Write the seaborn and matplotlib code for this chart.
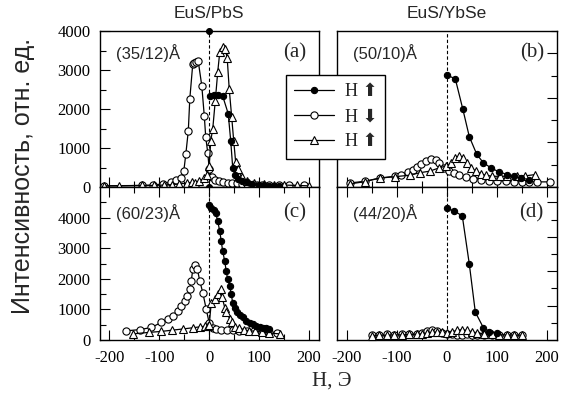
import numpy as np
import pandas as pd
import seaborn as sns
import matplotlib
matplotlib.use("Agg")
import matplotlib.pyplot as plt
from matplotlib.lines import Line2D
from matplotlib.ticker import MultipleLocator
from matplotlib.font_manager import FontProperties

# ---------------- data ----------------
# panel (a) EuS/PbS (35/12)
fill_a_x = [2, 10, 18, 27, 38, 43, 47, 52, 58, 65, 75, 85, 100, 110, 120, 130, 140]
fill_a_y = [2330, 2350, 2350, 2330, 1880, 1190, 500, 300, 200, 150, 120, 80, 50, 40, 30, 20, 20]
fill_a_iso_x = [0, 0]
fill_a_iso_y = [4000, 0]
circ_a_x = [-210, -135, -113, -93, -77, -67, -57, -51, -47, -42, -39, -33, -30, -26, -22, -15, -10, -7, -3, 0,
            5, 12, 20, 28, 37, 45, 55, 65, 75, 85, 95, 105, 120, 140, 160, 190]
circ_a_y = [30, 40, 50, 80, 130, 170, 240, 410, 840, 1440, 2260, 3160, 3190, 3210, 3220, 2600, 1830, 1270, 880, 450,
            250, 180, 150, 120, 110, 100, 90, 80, 70, 60, 60, 50, 40, 40, 40, 40]
tri_a_x = [-210, -180, -135, -110, -90, -75, -60, -45, -35, -28, -20, -10, -5, 0, 3, 7, 12, 17, 21, 27,
           32, 36, 40, 45, 49, 53, 57, 65, 75, 90, 110, 130, 150, 175, 200]
tri_a_y = [30, 30, 40, 40, 50, 60, 80, 100, 120, 110, 150, 230, 300, 540, 1190, 1490, 2200, 2950, 3450, 3600,
           3550, 3300, 2520, 1790, 1190, 630, 450, 250, 150, 100, 80, 60, 50, 40, 30]

# panel (b) EuS/YbSe (50/10)
fill_b_x = [0, 17, 32, 45, 60, 73, 88, 104, 121, 134, 149, 164]
fill_b_y = [2510, 2430, 1750, 1130, 730, 545, 430, 340, 280, 240, 200, 165]
circ_b_x = [-193, -163, -134, -104, -91, -77, -67, -60, -51, -41, -31, -22, -15, -5, 5, 15, 25, 38, 52, 68,
            85, 101, 118, 134, 151, 164, 180, 207]
circ_b_y = [90, 130, 200, 240, 280, 340, 390, 445, 520, 580, 620, 600, 545, 430, 370, 320, 280, 220, 190, 165,
            145, 145, 130, 115, 115, 115, 115, 115]
tri_b_x = [-193, -163, -134, -104, -74, -54, -34, -15, -1, 9, 17, 25, 32, 40, 48, 58, 68, 78, 91, 106,
           121, 140, 157, 177]
tri_b_y = [70, 120, 200, 230, 265, 320, 355, 430, 470, 545, 660, 695, 640, 545, 430, 355, 295, 265, 240, 240,
           240, 250, 250, 280]

# panel (c) EuS/PbS (60/23)
fill_c_x = [0, 4, 9, 13, 17, 21, 24, 27, 31, 34, 37, 41, 44, 47, 51, 56, 61, 67, 74, 81, 87, 94, 101, 107, 114, 120]
fill_c_y = [4420, 4330, 4250, 4150, 3880, 3560, 3230, 2900, 2580, 2250, 1980, 1770, 1500, 1220, 1060, 930, 820,
            740, 630, 570, 520, 470, 430, 400, 390, 370]
circ_c_x = [-166, -139, -116, -96, -83, -73, -63, -56, -49, -44, -39, -36, -33, -29, -24, -19, -13, -6, 0, 7,
            14, 24, 35, 48, 60, 75, 90, 105, 120, 135]
circ_c_y = [300, 340, 410, 575, 680, 790, 950, 1120, 1280, 1440, 1660, 1930, 2310, 2440, 2330, 1930, 1550, 1000,
            550, 390, 360, 340, 330, 320, 310, 300, 290, 270, 250, 230]
tri_c_x = [-153, -120, -96, -75, -53, -33, -19, -8, -3, 0, 4, 11, 17, 23, 26, 31, 34, 41, 45, 52,
           60, 70, 80, 91, 105, 120, 141]
tri_c_y = [200, 250, 280, 320, 360, 400, 430, 450, 470, 500, 1220, 1330, 1500, 1660, 1390, 1060, 900, 700, 575,
           440, 380, 330, 300, 290, 260, 230, 200]

# panel (d) EuS/YbSe (44/20)
fill_d_x = [0, 15, 31, 45, 57, 73, 85, 100]
fill_d_y = [3830, 3750, 3610, 2210, 810, 360, 245, 200]
low_d_x = [-150, -135, -120, -105, -90, -75, -60, -50, -40, -30, -20, -10, 0, 10, 20, 30, 40, 50, 60, 75,
           90, 105, 120, 135, 150]
circ_d_y = [150, 150, 160, 150, 160, 170, 180, 200, 250, 300, 260, 200, 170, 160, 150, 150, 160, 150, 150, 150,
            150, 150, 140, 150, 150]
tri_d_y = [130, 140, 140, 150, 150, 160, 170, 180, 200, 220, 230, 220, 200, 230, 280, 300, 280, 240, 200, 170,
           160, 150, 150, 140, 140]

column_titles = ["EuS/PbS", "EuS/YbSe"]
sample_labels = ["(35/12)Å", "(50/10)Å", "(60/23)Å", "(44/20)Å"]
panel_letters = ["(a)", "(b)", "(c)", "(d)"]
legend_labels = ["H \u2B06", "H \u2B07", "H \u2B06"]
y_label = "Интенсивность, отн. ед."
x_label = "Н, Э"
x_ticks = [-200, -100, 0, 100, 200]
y_ticks = [0, 1000, 2000, 3000, 4000]

# ---------------- style ----------------
sns.set_theme(style="white")
plt.rcParams["font.family"] = ["Liberation Serif", "DejaVu Sans"]
plt.rcParams["axes.unicode_minus"] = False
SANS = FontProperties(family=["Liberation Sans", "DejaVu Sans"], style="normal", weight="normal")

W, H = 567, 394
fig = plt.figure(figsize=(W / 100, H / 100), dpi=100)
fig.patch.set_facecolor("white")

def ax_at(l, t, r, b):
    return fig.add_axes([l / W, 1 - b / H, (r - l) / W, (b - t) / H])

ax_a = ax_at(100, 31, 319, 187)
ax_c = ax_at(100, 187, 319, 340)
ax_b = ax_at(337, 31, 557, 187)
ax_d = ax_at(337, 187, 557, 340)

line_kw = dict(color="black", linewidth=0.9, estimator=None, sort=False, legend=False)
filled = dict(marker="o", markersize=4.5, markerfacecolor="black", markeredgecolor="black", markeredgewidth=0.8)
opencirc = dict(marker="o", markersize=5.2, markerfacecolor="white", markeredgecolor="black", markeredgewidth=0.8)
opentri = dict(marker="^", markersize=5.2, markerfacecolor="white", markeredgecolor="black", markeredgewidth=0.8)

def series(ax, x, y, mk, z):
    df = pd.DataFrame({"x": x, "y": y})
    sns.lineplot(data=df, x="x", y="y", ax=ax, zorder=z, clip_on=False, **line_kw, **mk)

panels = [
    (ax_a, [(circ_a_x, circ_a_y, opencirc), (tri_a_x, tri_a_y, opentri), (fill_a_x, fill_a_y, filled)], (0, 4000)),
    (ax_b, [(circ_b_x, circ_b_y, opencirc), (tri_b_x, tri_b_y, opentri), (fill_b_x, fill_b_y, filled)], (0, 3500)),
    (ax_c, [(circ_c_x, circ_c_y, opencirc), (tri_c_x, tri_c_y, opentri), (fill_c_x, fill_c_y, filled)], (0, 5000)),
    (ax_d, [(low_d_x, circ_d_y, opencirc), (low_d_x, tri_d_y, opentri), (fill_d_x, fill_d_y, filled)], (0, 4450)),
]

for i, (ax, sers, ylim) in enumerate(panels):
    ax.axvline(0, color="black", linestyle=(0, (3, 2)), linewidth=0.8, zorder=1)
    for j, (x, y, mk) in enumerate(sers):
        series(ax, x, y, mk, 3 + j)
    ax.set_xlim(-219, 220)
    ax.set_ylim(*ylim)
    ax.xaxis.set_major_locator(MultipleLocator(100))
    ax.xaxis.set_minor_locator(MultipleLocator(50))
    ax.yaxis.set_major_locator(MultipleLocator(1000))
    ax.yaxis.set_minor_locator(MultipleLocator(500))
    ax.set_xlabel("")
    ax.set_ylabel("")
    for s in ax.spines.values():
        s.set_visible(True)
        s.set_color("black")
        s.set_linewidth(1.0)
    left_col = i in (0, 2)
    bottom_row = i in (2, 3)
    ax.tick_params(which="both", direction="in", colors="black", width=0.8,
                   left=left_col, right=not left_col, top=bottom_row, bottom=True,
                   labelleft=left_col, labelright=False, labelbottom=bottom_row, labeltop=False,
                   labelsize=12)
    ax.tick_params(which="major", length=7, pad=7)
    ax.tick_params(which="minor", length=4)
    if left_col:
        ax.set_yticks(y_ticks)
        ax.set_yticklabels([str(v) for v in y_ticks])
    if bottom_row:
        ax.set_xticks(x_ticks)
        ax.set_xticklabels([str(v) for v in x_ticks])
    ax.text(0.075, 0.86 if i < 2 else 0.83, sample_labels[i], transform=ax.transAxes,
            fontproperties=SANS, fontsize=12, ha="left", va="center")
    ax.text(0.94, 0.86 if i < 2 else 0.83, panel_letters[i], transform=ax.transAxes,
            fontsize=15, ha="right", va="center")

# isolated markers in (a)
sns.scatterplot(x=fill_a_iso_x, y=fill_a_iso_y, ax=ax_a, color="black", s=18, marker="o",
                edgecolor="black", linewidth=0.8, clip_on=False, zorder=6, legend=False)

# column titles and axis labels
fig.text(209 / W, 1 - 13 / H, column_titles[0], fontproperties=SANS, fontsize=12.5, ha="center", va="center")
fig.text(447 / W, 1 - 13 / H, column_titles[1], fontproperties=SANS, fontsize=12.5, ha="center", va="center")
fig.text(23 / W, 1 - 176 / H, y_label, fontproperties=SANS, fontsize=18, rotation=90, ha="center", va="center")
fig.text(332 / W, 1 - 381 / H, x_label, fontsize=15, ha="center", va="center")

# legend
handles = [
    Line2D([], [], color="black", linewidth=0.9, **filled),
    Line2D([], [], color="black", linewidth=0.9, **opencirc),
    Line2D([], [], color="black", linewidth=0.9, **opentri),
]
leg = fig.legend(handles, legend_labels, loc="upper left", bbox_to_anchor=(286 / W, 1 - 75 / H),
                 borderaxespad=0,
                 prop=FontProperties(family=["Liberation Serif", "DejaVu Sans"], size=13),
                 frameon=True, fancybox=False, edgecolor="black", framealpha=1,
                 handlelength=2.2, handletextpad=0.6, labelspacing=0.45, borderpad=0.45)
leg.get_frame().set_linewidth(1.0)
leg.set_zorder(20)

fig.savefig("out.png", dpi=100, facecolor="white")
